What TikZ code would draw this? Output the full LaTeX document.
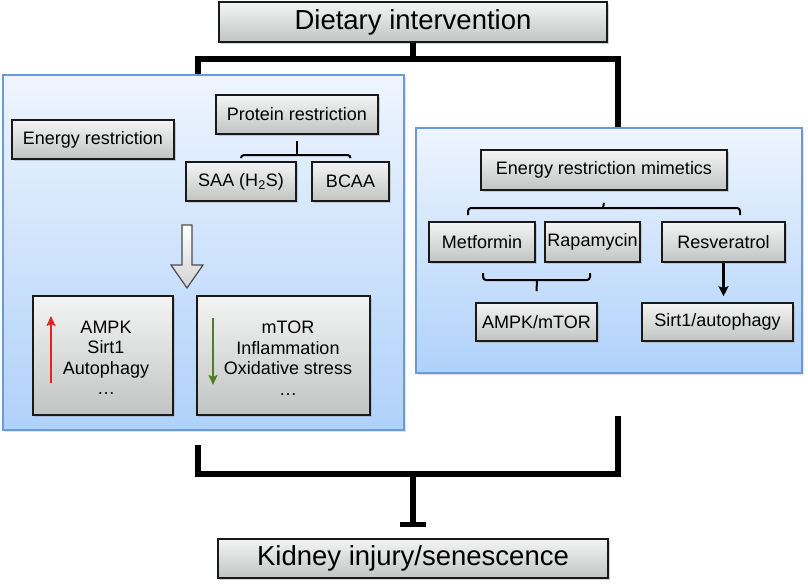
\documentclass[tikz,border=0pt]{standalone}
\usepackage{fontspec}
\setmainfont{Liberation Sans}
\usetikzlibrary{arrows.meta,shadows,calc}
\definecolor{pborder}{HTML}{6A9BD8}
\definecolor{ptop}{HTML}{EEF5FE}
\definecolor{pbot}{HTML}{AFD1FA}
\definecolor{gtop}{HTML}{F4F4F4}
\definecolor{gbot}{HTML}{C2C4C4}
\definecolor{upred}{HTML}{E32222}
\definecolor{downgreen}{HTML}{4F7F24}
\begin{document}
\begin{tikzpicture}[x=1pt,y=-1pt,
  sz/.style 2 args={minimum width=#1, minimum height=#2},
  panel/.style={draw=pborder, line width=1.3pt, top color=ptop, bottom color=pbot,
    drop shadow={shadow xshift=1.5pt,shadow yshift=-1.5pt,fill=black!22}, inner sep=0pt},
  gbox/.style={draw=black!90, line width=1.6pt, top color=gtop, bottom color=gbot,
    drop shadow={shadow xshift=1.5pt,shadow yshift=-1.5pt,fill=black!35}, inner sep=0pt,
    font=\fontsize{18}{20.5}\selectfont},
  bigbox/.style={gbox, font=\fontsize{27.5}{30}\selectfont},
  txt/.style={align=center, inner sep=0pt, font=\fontsize{18}{20.5}\selectfont},
  bar/.style={line width=5.5pt},
  brk/.style={line width=2pt, rounded corners=3pt},
  thinarr/.style={line width=2.2pt, -{Stealth[length=10pt,width=10pt,inset=2pt]}},
  colarr/.style={line width=2pt, -{Stealth[length=10pt,width=9pt,inset=2pt]}}
]
\useasboundingbox (0,0) rectangle (808,584);

% top and bottom boxes
\node[bigbox, sz={388}{40}] (diet) at (413,22) {Dietary intervention};
\node[bigbox, sz={390}{39}] (kid) at (413,558.5) {Kidney injury/senescence};

% panels
\node[panel, sz={401}{355}] (lp) at (203.5,252.5) {};
\node[panel, sz={386}{245}] (rp) at (609,250.5) {};

% top bracket
\coordinate (tl) at (198,59);
\coordinate (tr) at (618,59);
\draw[bar] (diet.south) -- (diet.south |- tl);
\draw[bar] (lp.north -| tl) -- (tl) -- (tr) -- (rp.north -| tr);

% bottom bracket
\coordinate (bl0) at (198,445);
\coordinate (br0) at (618,416);
\coordinate (bl) at (198,474);
\coordinate (br) at (618,474);
\draw[bar] (bl0) -- (bl) -- (br) -- (br0);
\draw[bar, -{Bar[width=26pt]}, shorten >=11pt] (kid.north |- bl) -- (kid.north);

% left panel content
\node[gbox, sz={162}{39}] (energy) at (93,139.5) {Energy restriction};
\node[gbox, sz={162}{39}] (prot) at (297,114.5) {Protein restriction};
\node[gbox, sz={110}{39}] (saa) at (241,181.5) {SAA (H\textsubscript{2}S)};
\node[gbox, sz={77}{39}] (bcaa) at (350.5,181.5) {BCAA};
\coordinate (pb) at (297,155);
\draw[brk] ([yshift=3pt]saa.north) |- (pb) -| ([yshift=3pt]bcaa.north);
\draw[brk] (pb) -- ([yshift=-6pt]prot.south);

% hollow arrow
\draw[draw=black!70, line width=1.2pt, top color=white, bottom color=gray!35]
  (182,225) -- (192,225) -- (192,265) -- (203,265) -- (187,288) -- (171,265) -- (182,265) -- cycle;

\node[gbox, sz={140}{119}] (up) at (103,355.5) {};
\node[gbox, sz={173}{119}] (down) at (283.5,355.5) {};
\node[txt] (uptxt) at (106,358) {AMPK\\Sirt1\\Autophagy\\…};
\node[txt] (downtxt) at (288,358) {mTOR\\Inflammation\\Oxidative stress\\…};
\coordinate (r1) at (51,383);
\coordinate (r2) at (51,316);
\coordinate (g1) at (213,318);
\coordinate (g2) at (213,385);
\draw[upred, colarr] (r1) -- (r2);
\draw[downgreen, colarr] (g1) -- (g2);

% right panel content
\node[gbox, sz={246}{40}] (erm) at (604,170) {Energy restriction mimetics};
\node[gbox, sz={106}{40}] (met) at (482,242) {Metformin};
\node[gbox, sz={95}{40}] (rapa) at (592.5,242) {Rapamycin};
\node[gbox, sz={123}{40}] (res) at (723.5,242) {Resveratrol};
\node[gbox, sz={121}{38}] (am) at (536.5,322) {AMPK/mTOR};
\node[gbox, sz={151}{38}] (sirt) at (717.5,322) {Sirt1/autophagy};

\coordinate (mb) at (603,208);
\coordinate (mbl) at (468,215);
\coordinate (mbr) at (740,215);
\draw[brk] (mbl) |- (mb) -| (mbr);
\draw[brk] (mb) -- ([yshift=-12pt]erm.south);

\coordinate (lb) at (537,280);
\coordinate (lbl) at (483,273);
\coordinate (lbr) at (590,273);
\draw[brk] (lbl) |- (lb) -| (lbr);
\draw[brk] (lb) -- ([yshift=11pt]am.north);

\coordinate (sirttop) at ([yshift=6pt]sirt.north);
\draw[thinarr] (res.south) -- (res.south |- sirttop);
\end{tikzpicture}
\end{document}
